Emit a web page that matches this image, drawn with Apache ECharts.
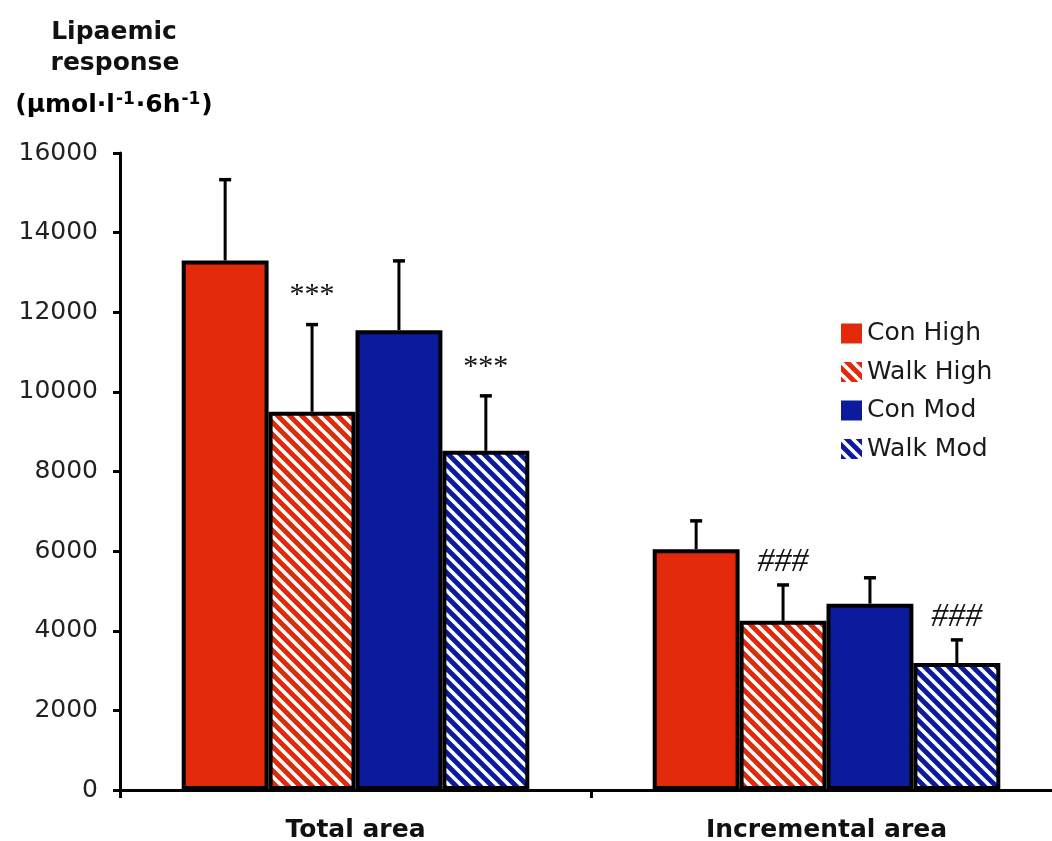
<!DOCTYPE html>
<html>
<head>
<meta charset="utf-8">
<script src="https://cdn.jsdelivr.net/npm/echarts@6/dist/echarts.min.js"></script>
<style>
  html, body { margin: 0; padding: 0; background: #fff; }
  #chart { width: 1052px; height: 841px; }
</style>
</head>
<body>
<div id="chart"></div>
<script>
// Lipaemic response: total and incremental area under the curve
const categories = ['Total area', 'Incremental area'];
const seriesNames = ['Con High', 'Walk High', 'Con Mod', 'Walk Mod'];

const conHigh = [13300, 6050];
const walkHigh = [9500, 4250];
const conMod = [11550, 4680];
const walkMod = [8520, 3190];

// upper error bars (SEM)
const conHighErr = [2030, 710];
const walkHighErr = [2190, 900];
const conModErr = [1740, 650];
const walkModErr = [1380, 580];

// significance marks drawn above the error bars
const walkHighMarks = ['***', '###'];
const walkModMarks = ['***', '###'];

const yTicks = [0, 2000, 4000, 6000, 8000, 10000, 12000, 14000, 16000];

const RED = '#e2290a';
const BLUE = '#0c1a9c';

function stripes(bg) {
  const n = 12;
  const c = document.createElement('canvas');
  c.width = n; c.height = n;
  const g = c.getContext('2d');
  g.fillStyle = bg;
  g.fillRect(0, 0, n, n);
  g.strokeStyle = '#ffffff';
  g.lineWidth = 3.6;
  g.beginPath();
  for (let k = -1; k <= 1; k++) {
    g.moveTo(k * n - 1, -1);
    g.lineTo(k * n + n + 1, n + 1);
  }
  g.stroke();
  return c;
}

const fills = [
  RED,
  { image: stripes(RED), repeat: 'repeat' },
  BLUE,
  { image: stripes(BLUE), repeat: 'repeat' }
];
const values = [conHigh, walkHigh, conMod, walkMod];
const errs = [conHighErr, walkHighErr, conModErr, walkModErr];
const marks = [[], walkHighMarks, [], walkModMarks];

const CAT_GAP = 0.262;

const barSeries = seriesNames.map((name, i) => ({
  name: name,
  type: 'bar',
  data: values[i],
  barGap: '0%',
  barCategoryGap: (CAT_GAP * 100) + '%',
  itemStyle: { color: fills[i], borderColor: '#000', borderWidth: 4 },
  emphasis: { disabled: true },
  z: 2
}));

// rows: [category index, series index, value, error]
const errRows = [];
const errMarks = [];
values.forEach((vals, s) => {
  vals.forEach((v, c) => {
    errRows.push([c, s, v, errs[s][c]]);
    errMarks.push(marks[s][c] || '');
  });
});

const errSeries = {
  type: 'custom',
  data: errRows,
  z: 5,
  silent: true,
  renderItem: function (params, api) {
    const c = api.value(0);
    const s = api.value(1);
    const v = api.value(2);
    const e = api.value(3);
    const mark = errMarks[params.dataIndex];
    const band = api.size([1, 0])[0];
    const group = band * (1 - CAT_GAP);
    const bw = group / 4;
    const center = api.coord([c, 0])[0];
    const x = center - group / 2 + bw * (s + 0.5);
    const yTop = api.coord([c, v + e])[1];
    const yBar = api.coord([c, v])[1];
    const children = [
      { type: 'line', shape: { x1: x, y1: yBar, x2: x, y2: yTop }, style: { stroke: '#000', lineWidth: 3 } },
      { type: 'line', shape: { x1: x - 6, y1: yTop, x2: x + 6, y2: yTop }, style: { stroke: '#000', lineWidth: 3.5 } }
    ];
    if (mark) {
      const star = mark === '***';
      children.push({
        type: 'text',
        style: {
          text: mark,
          x: x,
          y: yTop - (star ? 29 : 23),
          align: 'center',
          verticalAlign: 'middle',
          font: star ? '30px "Liberation Serif", serif' : 'italic 34px "Liberation Serif", serif',
          fill: '#111'
        }
      });
    }
    return { type: 'group', children: children };
  }
};

const chart = echarts.init(document.getElementById('chart'), null, { renderer: 'canvas' });
chart.setOption({
  backgroundColor: '#ffffff',
  animation: false,
  grid: { left: 120, width: 942, top: 153, bottom: 51, containLabel: false, outerBoundsMode: 'none' },
  legend: {
    data: seriesNames,
    orient: 'vertical',
    left: 841,
    top: 321,
    padding: 0,
    itemWidth: 21,
    itemHeight: 20,
    itemGap: 13.5,
    icon: 'rect',
    itemStyle: { borderWidth: 0 },
    textStyle: { fontFamily: 'DejaVu Sans', fontSize: 25, color: '#1a1a1a' },
    selectedMode: false
  },
  xAxis: {
    type: 'category',
    data: categories,
    axisLine: { lineStyle: { color: '#000', width: 3 } },
    axisTick: { show: true, length: 8, lineStyle: { color: '#000', width: 3 } },
    axisLabel: { fontFamily: 'DejaVu Sans', fontWeight: 'bold', fontSize: 25, color: '#111', margin: 28 }
  },
  yAxis: {
    type: 'value',
    min: 0,
    max: 16000,
    interval: 2000,
    splitLine: { show: false },
    axisLine: { show: true, lineStyle: { color: '#000', width: 3 } },
    axisTick: { show: true, length: 7, lineStyle: { color: '#000', width: 3 } },
    axisLabel: {
      fontFamily: 'DejaVu Sans', fontSize: 25, color: '#222', margin: 22,
      formatter: function (v) { return yTicks.indexOf(v) >= 0 ? String(v) : ''; }
    }
  },
  graphic: [
    { type: 'text', style: { text: 'Lipaemic', x: 114, y: 32, align: 'center', verticalAlign: 'middle', font: 'bold 25px "DejaVu Sans"', fill: '#111' } },
    { type: 'text', style: { text: 'response', x: 115, y: 63, align: 'center', verticalAlign: 'middle', font: 'bold 25px "DejaVu Sans"', fill: '#111' } },
    { type: 'text', style: {
        text: '{n|(μmol·l}{s|-1}{n|·6h}{s|-1}{n|)}',
        x: 114, y: 105, align: 'center', verticalAlign: 'middle',
        rich: {
          n: { fontFamily: 'DejaVu Sans', fontWeight: 'bold', fontSize: 25, color: '#111', height: 30 },
          s: { fontFamily: 'DejaVu Sans', fontWeight: 'bold', fontSize: 17, color: '#111', verticalAlign: 'top', height: 30, padding: [0, 1, 10, 1] }
        }
      } }
  ],
  series: barSeries.concat([errSeries])
});
</script>
</body>
</html>
